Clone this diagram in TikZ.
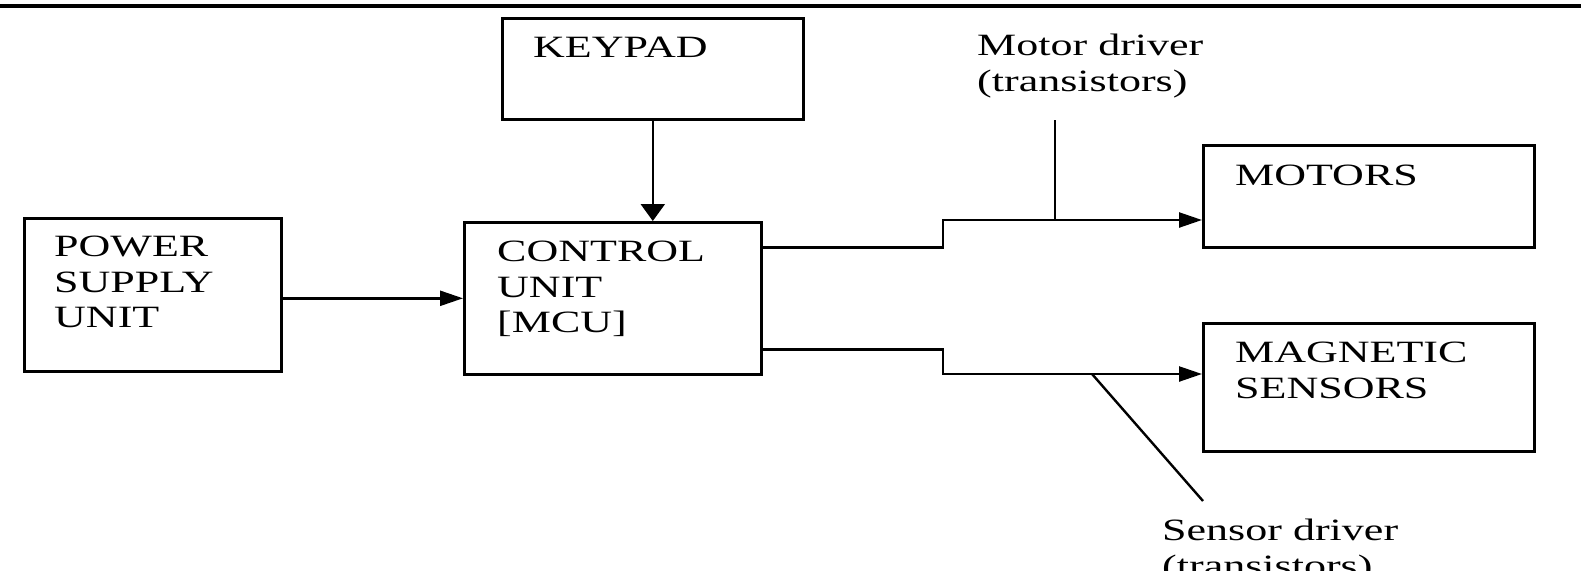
\documentclass[tikz,border=0pt]{standalone}
\usepackage{fontspec}
\setmainfont{Liberation Serif}[FakeStretch=1.42]
\usetikzlibrary{arrows.meta,positioning}

\begin{document}
\begin{tikzpicture}[
    x=1pt, y=-1pt,
    box/.style={draw, line width=2.6pt, inner sep=0pt, anchor=north west},
    txt/.style={inner sep=0pt, align=left, font=\fontsize{31}{35.5}\selectfont},
    wire/.style={line width=2.4pt},
    >={Triangle[length=23pt,width=15pt]}
]
\useasboundingbox (0,0) rectangle (1581,570);
\draw[line width=3.2pt] (0,6) -- (1581,6);

% blocks
\node[box, minimum width=301pt, minimum height=101pt] (keypad) at (501,17) {};
\node[box, minimum width=257pt, minimum height=153pt] (psu) at (23,217) {};
\node[box, minimum width=297pt, minimum height=152pt] (mcu) at (463,221) {};
\node[box, minimum width=331pt, minimum height=102pt] (motors) at (1202,144) {};
\node[box, minimum width=331pt, minimum height=128pt] (sensors) at (1202,322) {};

\node[txt, below right=20pt and 32pt of keypad.north west] (keypadtxt) {KEYPAD};
\node[txt, below right=19pt and 31pt of psu.north west] (psutxt) {POWER\\SUPPLY\\UNIT};
\node[txt, below right=20pt and 34pt of mcu.north west] (mcutxt) {CONTROL\\UNIT\\{[MCU]}};
\node[txt, below right=21pt and 33pt of motors.north west] (motorstxt) {MOTORS};
\node[txt, below right=20pt and 33pt of sensors.north west] (sensorstxt) {MAGNETIC\\SENSORS};

\node[txt, anchor=north west] (motordrv) at (977,34) {Motor driver\\(transistors)};
\node[txt, anchor=north west] (sensordrv) at (1162,519) {Sensor driver\\(transistors)};

% connectors
\coordinate (mstep) at (943,220);
\coordinate (sstep) at (943,374);
\coordinate (mtap) at (1055,120);
\coordinate (stap) at (1203,501);

\draw[wire, -{Triangle[length=17pt,width=24pt]}] (keypad.south) -- (keypad.south |- mcu.north);
\draw[wire, ->] (mcu.west -| psu.east) -- (mcu.west);
\draw[wire, ->] ([yshift=51pt]mcu.east) -| (mstep) -- (mstep -| motors.west);
\draw[wire, ->] ([yshift=-51pt]mcu.east) -| (sstep) -- (sstep -| sensors.west);
\draw[wire] (mtap) -- (mtap |- mstep);
\draw[wire] ([xshift=149pt]sstep) -- (stap);
\end{tikzpicture}
\end{document}
